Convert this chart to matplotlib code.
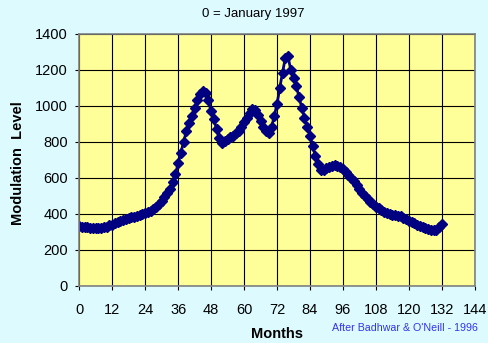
import matplotlib.pyplot as plt

plt.rcParams['font.family'] = ['Liberation Sans', 'DejaVu Sans']

# monthly modulation level, month 0 = January 1997
months = list(range(0, 133))
modulation = [
    330, 328, 325, 325, 323, 323, 323, 323, 323, 325,   # 0-9
    328, 335, 340, 348, 355, 362, 368, 372, 376, 380,   # 10-19
    384, 388, 392, 397, 402, 410, 418, 428, 440, 455,   # 20-29
    472, 492, 515, 540, 575, 620, 680, 740, 800, 860,   # 30-39
    905, 945, 990, 1030, 1065, 1085, 1070, 1030, 970, 925,  # 40-49
    870, 820, 795, 805, 815, 825, 835, 848, 862, 885,   # 50-59
    910, 935, 960, 985, 975, 950, 915, 885, 860, 848,   # 60-69
    880, 945, 1010, 1100, 1185, 1265, 1275, 1200, 1155, 1110,  # 70-79
    1050, 990, 935, 880, 835, 775, 720, 675, 643, 645,  # 80-89
    655, 660, 668, 672, 665, 658, 648, 632, 615, 598,   # 90-99
    580, 562, 540, 518, 498, 480, 465, 452, 440, 430,   # 100-109
    420, 410, 402, 398, 395, 393, 390, 385, 378, 370,   # 110-119
    362, 355, 348, 340, 334, 328, 322, 316, 312, 308,   # 120-129
    308, 325, 345,                                      # 130-132
]

x_ticks = list(range(0, 145, 12))
y_ticks = list(range(0, 1401, 200))

fig = plt.figure(figsize=(4.89, 3.43), dpi=100, facecolor='#DDFBFF')
ax = fig.add_axes([0.162, 0.167, 0.809, 0.734])
ax.set_facecolor('#FFFF99')

ax.plot(months, modulation, color='#000080', linewidth=2,
        marker='D', markersize=5.5, markeredgecolor='#000080')

ax.set_xlim(0, 144)
ax.set_ylim(0, 1400)
ax.set_xticks(x_ticks)
ax.set_yticks(y_ticks)
ax.grid(True, color='black', linewidth=0.8)
ax.set_axisbelow(True)
for s in ax.spines.values():
    s.set_color('#808080')
    s.set_linewidth(1.2)
ax.tick_params(axis='both', labelsize=10.5, length=3, color='black',
               width=0.8, direction='out')
ax.tick_params(axis='x', pad=9.5)
ax.tick_params(axis='y', pad=5)

fig.text(277 / 489, 1 - 334 / 343, 'Months', fontsize=10.5,
         fontweight='bold', ha='center', va='center')
fig.text(18 / 489, 1 - 163 / 343, 'Modulation  Level', fontsize=10.5,
         fontweight='bold', ha='center', va='center', rotation=90)
fig.text(253 / 489, 1 - 14 / 343, '0 = January 1997', fontsize=9.5,
         ha='center', va='center')
fig.text(478 / 489, 1 - 328 / 343, "After Badhwar & O'Neill - 1996",
         color='#3333EE', fontsize=7.7, ha='right', va='center')

fig.savefig('out.png', dpi=100, facecolor=fig.get_facecolor())
